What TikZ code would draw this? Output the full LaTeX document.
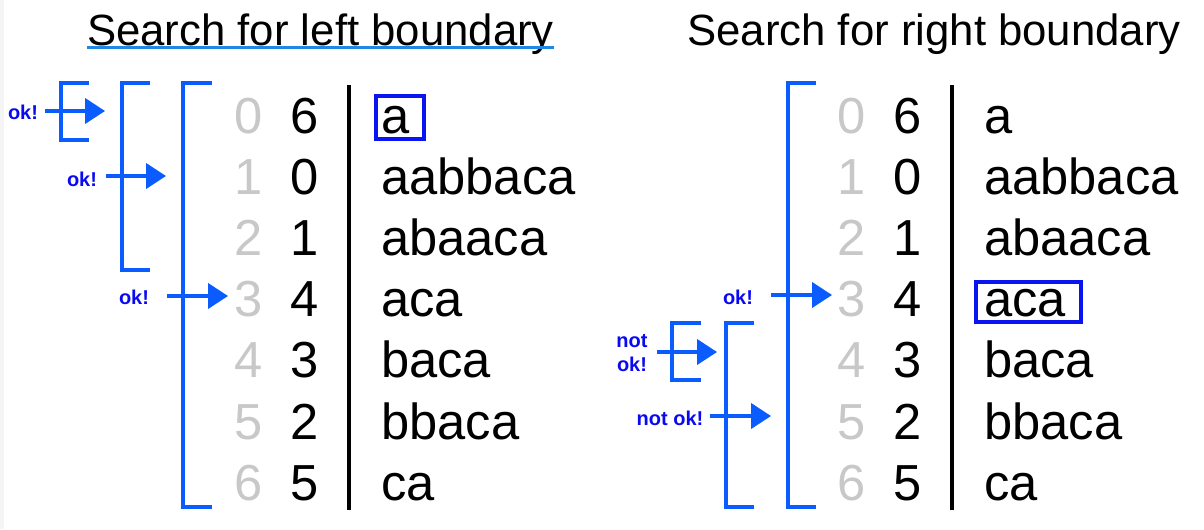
\documentclass[tikz,border=0pt]{standalone}
\usepackage{fontspec}
\setmainfont{Liberation Sans}
\usetikzlibrary{arrows.meta}
\definecolor{brblue}{HTML}{0A5CFF}
\definecolor{lblblue}{HTML}{0A0AF0}
\definecolor{boxblue}{HTML}{0A14F0}
\definecolor{idxgray}{HTML}{C8C8C8}
\definecolor{ulblue}{HTML}{1E88E5}
\tikzset{
  title/.style={font=\fontsize{32.8}{36}\selectfont, anchor=base, inner sep=0pt},
  idx/.style={font=\fontsize{38}{42}\selectfont, text=idxgray, anchor=base, inner sep=0pt},
  num/.style={font=\fontsize{38}{42}\selectfont, anchor=base, inner sep=0pt},
  str/.style={font=\fontsize{38}{42}\selectfont, anchor=base west, inner sep=0pt},
  lbl/.style={font=\bfseries\fontsize{15}{17.5}\selectfont, text=lblblue, inner sep=0pt, align=center},
  bracketline/.style={draw=brblue, line width=3pt},
  arr/.style={draw=brblue, line width=2.3pt, -{Triangle[length=15pt,width=19pt]}},
  sep/.style={draw=black, line width=2.3pt},
  hl/.style={draw=boxblue, line width=2.3pt},
}
\begin{document}
\begin{tikzpicture}[x=0.75pt,y=-0.75pt]
\useasboundingbox[fill=white] (0,0) rectangle (1204,529);
\fill[black!4] (0,0) rectangle (4,529);
% titles
\node[title] (tl) at (320.5,45) {Search for left boundary};
\draw[ulblue, line width=1.6pt] (87,47.5) -- (554,47.5);
\node[title] (tr) at (934,45) {Search for right boundary};
% rows
\foreach \i/\n/\s [evaluate=\i as \yb using 133+61.2*\i] in {0/6/a,1/0/aabbaca,2/1/abaaca,3/4/aca,4/3/baca,5/2/bbaca,6/5/ca}{
  \node[idx] (li\i) at (249,\yb) {\i};
  \node[num] (ln\i) at (305,\yb) {\n};
  \node[str] (ls\i) at (381,\yb) {\s};
  \node[idx] (ri\i) at (852,\yb) {\i};
  \node[num] (rn\i) at (908,\yb) {\n};
  \node[str] (rs\i) at (984,\yb) {\s};
}
\draw[sep] (349,85) -- (349,510);
\draw[sep] (952,85) -- (952,510);
% highlight boxes
\draw[hl] (376,96) rectangle (424,139);
\draw[hl] (976,282) rectangle (1081,322);
% left brackets
\draw[bracketline] (89,83) -- (61,83) -- (61,140) -- (89,140);
\draw[bracketline] (150,83) -- (122,83) -- (122,270) -- (150,270);
\draw[bracketline] (212,83) -- (183,83) -- (183,507) -- (212,507);
% left arrows
\node[lbl] (la1) at (23,112) {ok!};
\coordinate (la1s) at (45,111);
\coordinate (la1t) at (105,111);
\draw[arr] (la1s) -- (la1t);
\node[lbl] (la2) at (82,179) {ok!};
\coordinate (la2s) at (106,176);
\coordinate (la2t) at (166,176);
\draw[arr] (la2s) -- (la2t);
\node[lbl] (la3) at (134,297) {ok!};
\coordinate (la3s) at (167,296);
\coordinate (la3t) at (228,296);
\draw[arr] (la3s) -- (la3t);
% right brackets
\draw[bracketline] (816,83) -- (788,83) -- (788,507) -- (816,507);
\draw[bracketline] (754,323) -- (726,323) -- (726,507) -- (754,507);
\draw[bracketline] (701,323) -- (672,323) -- (672,380) -- (701,380);
% right arrows
\node[lbl] (ra1) at (738,297) {ok!};
\coordinate (ra1s) at (771,295);
\coordinate (ra1t) at (832,295);
\draw[arr] (ra1s) -- (ra1t);
\node[lbl] (ra2) at (632,353) {not\\ok!};
\coordinate (ra2s) at (657,352);
\coordinate (ra2t) at (717,352);
\draw[arr] (ra2s) -- (ra2t);
\node[lbl] (ra3) at (670,418) {not ok!};
\coordinate (ra3s) at (710,416);
\coordinate (ra3t) at (771,416);
\draw[arr] (ra3s) -- (ra3t);
\end{tikzpicture}
\end{document}
